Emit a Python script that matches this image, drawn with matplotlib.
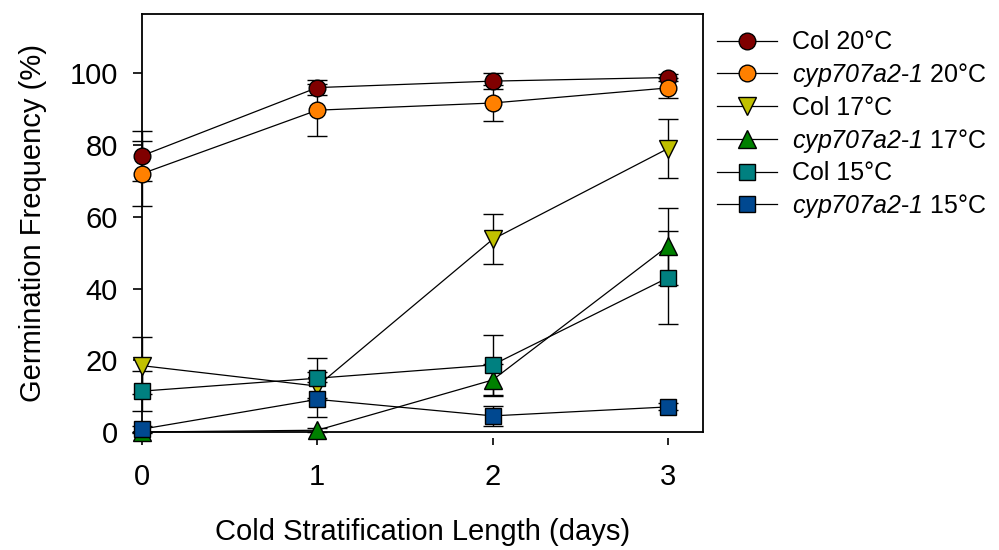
import matplotlib
matplotlib.use("Agg")
import matplotlib.pyplot as plt

plt.rcParams['font.family'] = ['Liberation Sans', 'DejaVu Sans']
plt.rcParams['mathtext.fontset'] = 'custom'
plt.rcParams['mathtext.rm'] = 'Liberation Sans'
plt.rcParams['mathtext.sf'] = 'Liberation Sans:italic'

# ── Data ──────────────────────────────────────────────────────────────
days = [0, 1, 2, 3]

labels = ['Col 20°C', r'$\mathsf{cyp707a2}$-$\mathsf{1}$ 20°C', 'Col 17°C',
          r'$\mathsf{cyp707a2}$-$\mathsf{1}$ 17°C', 'Col 15°C',
          r'$\mathsf{cyp707a2}$-$\mathsf{1}$ 15°C']

col20 = [77.0, 96.0, 97.8, 98.8]
col20_err = [7.0, 2.0, 2.2, 1.0]
cyp20 = [72.0, 89.7, 91.7, 95.9]
cyp20_err = [9.0, 7.3, 5.0, 2.7]
col17 = [18.5, 12.8, 53.7, 79.0]
col17_err = [8.0, 4.0, 7.0, 8.3]
cyp17 = [0.0, 0.5, 14.5, 51.8]
cyp17_err = [0.0, 0.5, 4.4, 10.7]
col15 = [11.4, 15.0, 18.7, 43.0]
col15_err = [5.5, 5.6, 8.4, 13.0]
cyp15 = [0.8, 9.1, 4.5, 7.0]
cyp15_err = [1.0, 4.8, 2.8, 1.0]

series = [col20, cyp20, col17, cyp17, col15, cyp15]
errors = [col20_err, cyp20_err, col17_err, cyp17_err, col15_err, cyp15_err]
colors = ['#800000', '#FF8000', '#C0C000', '#008000', '#008080', '#004890']
markers = ['o', 'o', 'v', '^', 's', 's']

# ── Figure ────────────────────────────────────────────────────────────
fig = plt.figure(figsize=(9.99, 5.5), dpi=100)
ax = fig.add_axes([0.1421, 0.2145, 0.5616, 0.76])

handles = []
for y, e, c, m, lab in zip(series, errors, colors, markers, labels):
    ax.errorbar(days, y, yerr=e, fmt='none', ecolor='black', elinewidth=1.0,
                capsize=7, capthick=1.0, zorder=2, clip_on=False)
    ms = 12 if m in ('o', 's') else 13
    h, = ax.plot(days, y, color='black', lw=0.9, marker=m, markersize=ms,
                 markerfacecolor=c, markeredgecolor='black', markeredgewidth=1.0,
                 zorder=3, clip_on=False, label=lab)
    handles.append(h)

ax.set_xlim(0, 3.2)
ax.set_ylim(0, 116.5)
ax.set_xticks(days)
ax.set_yticks([0, 20, 40, 60, 80, 100])

# bottom axis drawn offset below the frame
ax.spines['bottom'].set_position(('outward', 4))
ax.spines['bottom'].set_visible(False)
ax.axhline(0, color='black', lw=1.3, zorder=1, clip_on=False)
for s in ['left', 'right', 'top']:
    ax.spines[s].set_linewidth(1.3)

ax.tick_params(axis='x', direction='out', length=5, width=1.2, pad=13, labelsize=21)
ax.tick_params(axis='y', direction='out', length=6.5, width=1.2, pad=11, labelsize=21)

ax.set_xlabel('Cold Stratification Length (days)', fontsize=21, labelpad=20)
ax.set_ylabel('Germination Frequency (%)', fontsize=21, labelpad=16)

fig.legend(handles=handles, loc='upper left', bbox_to_anchor=(0.708, 0.963),
           frameon=False, fontsize=18, handlelength=2.4, handletextpad=0.6,
           labelspacing=0.27, borderaxespad=0)

fig.savefig('out.png', dpi=100)
